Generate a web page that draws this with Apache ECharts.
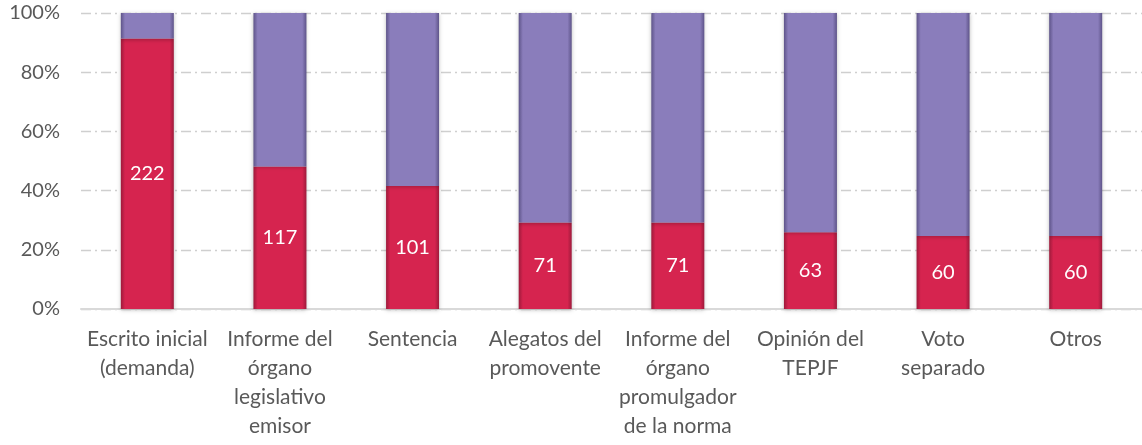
<!DOCTYPE html>
<html>
<head>
<meta charset="utf-8">
<script src="https://cdn.jsdelivr.net/npm/echarts@6/dist/echarts.min.js"></script>
<style>
  html, body { margin: 0; padding: 0; background: #fff; }
  #chart { width: 1142px; height: 445px; }
</style>
</head>
<body>
<div id="chart"></div>
<script>
// categories and counts
var categories = [
  'Escrito inicial\n(demanda)',
  'Informe del\nórgano\nlegislativo\nemisor',
  'Sentencia',
  'Alegatos del\npromovente',
  'Informe del\nórgano\npromulgador\nde la norma',
  'Opinión del\nTEPJF',
  'Voto\nseparado',
  'Otros'
];
var withCounts = [222, 117, 101, 71, 71, 63, 60, 60];
var totalCases = 243;
var yTicks = ['0%', '20%', '40%', '60%', '80%', '100%'];

var restCounts = withCounts.map(function (v) { return totalCases - v; });
function pct(arr) {
  return arr.map(function (v) { return v / totalCases * 100; });
}

function bevel(edge, mid) {
  return new echarts.graphic.LinearGradient(0, 0, 1, 0, [
    { offset: 0, color: edge },
    { offset: 0.08, color: mid },
    { offset: 0.92, color: mid },
    { offset: 1, color: edge }
  ]);
}

var myChart = echarts.init(document.getElementById('chart'));

var option = {
  animation: false,
  textStyle: { fontFamily: 'Lato' },
  grid: { left: 81, right: 0, top: 13, bottom: 136 },
  xAxis: {
    type: 'category',
    data: categories,
    axisLine: { lineStyle: { color: '#d9d9d9', width: 2 } },
    axisTick: { show: false },
    axisLabel: {
      interval: 0,
      color: '#595959',
      fontSize: 21,
      lineHeight: 29,
      margin: 16
    }
  },
  yAxis: {
    type: 'value',
    min: 0,
    max: 100,
    interval: 20,
    axisLine: { show: false },
    axisTick: { show: false },
    splitLine: {
      lineStyle: { color: '#cfcfcf', width: 1.3, type: [10, 4, 2, 4] }
    },
    axisLabel: {
      color: '#595959',
      fontSize: 20,
      margin: 21,
      formatter: function (v) { return yTicks[v / 20]; }
    }
  },
  series: [
    {
      name: 'Con',
      type: 'bar',
      stack: 'total',
      barWidth: 53,
      data: pct(withCounts),
      itemStyle: {
        color: bevel('#9e1a3b', '#d6244f'),
        shadowColor: 'rgba(0,0,0,0.25)',
        shadowBlur: 4,
        shadowOffsetY: 1
      },
      label: {
        show: true,
        position: 'inside',
        color: '#ffffff',
        fontSize: 20,
        formatter: function (p) { return withCounts[p.dataIndex]; }
      }
    },
    {
      name: 'Sin',
      type: 'bar',
      stack: 'total',
      barWidth: 53,
      data: pct(restCounts),
      itemStyle: {
        color: bevel('#5e5489', '#8a7dbb'),
        shadowColor: 'rgba(0,0,0,0.25)',
        shadowBlur: 4,
        shadowOffsetY: 1
      }
    }
  ]
};

myChart.setOption(option);
</script>
</body>
</html>
